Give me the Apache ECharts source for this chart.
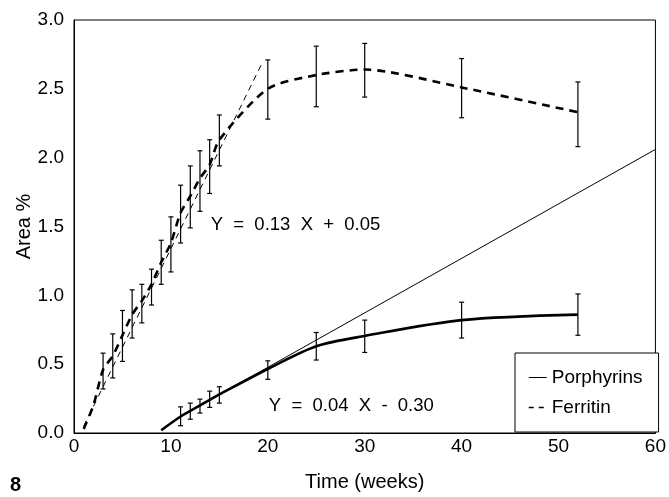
<!DOCTYPE html>
<html>
<head>
<meta charset="utf-8">
<script src="https://cdn.jsdelivr.net/npm/echarts@6/dist/echarts.min.js"></script>
<style>
html,body{margin:0;padding:0;background:#fff;}
#chart{width:669px;height:497px;}
</style>
</head>
<body>
<div id="chart"></div>
<script>
// ---- Data ----
var ferritinWeeks = [1, 2, 3, 4, 5, 6, 7, 8, 9, 10, 11, 12, 13, 14, 15, 20, 25, 30, 40, 52];
var ferritinMean  = [0.03, 0.2, 0.46, 0.56, 0.71, 0.86, 0.96, 1.08, 1.24, 1.38, 1.6, 1.72, 1.85, 1.95, 2.13, 2.5, 2.6, 2.64, 2.51, 2.33];
var ferritinBarWeeks = [3, 4, 5, 6, 7, 8, 9, 10, 11, 12, 13, 14, 15, 20, 25, 30, 40, 52];
var ferritinLow  = [0.32, 0.40, 0.52, 0.69, 0.80, 0.93, 1.08, 1.17, 1.38, 1.49, 1.61, 1.74, 1.94, 2.28, 2.37, 2.44, 2.29, 2.08];
var ferritinHigh = [0.58, 0.72, 0.89, 1.04, 1.08, 1.19, 1.40, 1.57, 1.80, 1.94, 2.05, 2.13, 2.31, 2.71, 2.81, 2.83, 2.72, 2.55];

var porphWeeks = [9, 11, 12, 13, 14, 15, 20, 25, 30, 40, 52];
var porphMean  = [0.02, 0.12, 0.16, 0.2, 0.24, 0.28, 0.465, 0.63, 0.705, 0.82, 0.86];
var porphBarWeeks = [11, 12, 13, 14, 15, 20, 25, 30, 40, 52];
var porphLow  = [0.053, 0.10, 0.145, 0.186, 0.217, 0.39, 0.53, 0.585, 0.69, 0.71];
var porphHigh = [0.19, 0.217, 0.246, 0.304, 0.336, 0.524, 0.73, 0.82, 0.95, 1.01];

// regression lines (end points as drawn)
var ferritinFitX = [1, 19.5];
var ferritinFitY = [0.05, 2.7];
var porphFitX = [13, 60];
var porphFitY = [0.2, 2.06];

var xTicks = [0, 10, 20, 30, 40, 50, 60];
var yTicks = ['0.0', '0.5', '1.0', '1.5', '2.0', '2.5', '3.0'];

var annoTexts = ['Y  =  0.13  X  +  0.05', 'Y  =  0.04  X  -  0.30'];
var annoX = [14.1, 20.1];
var annoY = [1.51, 0.2];

// ---- Build ----
function pairs(xs, ys) { return xs.map(function (x, i) { return [x, ys[i]]; }); }
function triples(xs, lo, hi) { return xs.map(function (x, i) { return [x, lo[i], hi[i]]; }); }

var FONT = 'Liberation Sans, Arial, Helvetica, sans-serif';

function errRender(params, api) {
  var x = api.value(0), lo = api.value(1), hi = api.value(2);
  var p1 = api.coord([x, lo]), p2 = api.coord([x, hi]);
  var w = 2.5;
  var st = { stroke: '#000', lineWidth: 1.2 };
  return {
    type: 'group',
    children: [
      { type: 'line', shape: { x1: p1[0], y1: p1[1], x2: p2[0], y2: p2[1] }, style: st },
      { type: 'line', shape: { x1: p1[0] - w, y1: p1[1], x2: p1[0] + w, y2: p1[1] }, style: st },
      { type: 'line', shape: { x1: p2[0] - w, y1: p2[1], x2: p2[0] + w, y2: p2[1] }, style: st }
    ]
  };
}

function annoRender(params, api) {
  var p = api.coord([api.value(0), api.value(1)]);
  return {
    type: 'text',
    x: p[0], y: p[1],
    style: {
      text: annoTexts[params.dataIndex],
      fill: '#000', font: '18.5px ' + FONT,
      textAlign: 'left', textVerticalAlign: 'middle'
    }
  };
}

var chart = echarts.init(document.getElementById('chart'), null, { renderer: 'canvas' });
var option = {
  backgroundColor: '#fff',
  animation: false,
  textStyle: { fontFamily: FONT, color: '#000' },
  grid: { left: 74, right: 10, top: 20, bottom: 63, show: true, borderColor: '#000', borderWidth: 1, backgroundColor: 'transparent' },
  xAxis: {
    type: 'value', min: 0, max: 60, interval: 10,
    name: 'Time (weeks)', nameLocation: 'middle', nameGap: 39, nameMoveOverlap: false,
    nameTextStyle: { fontSize: 20, color: '#000', fontFamily: FONT },
    axisLine: { show: true, lineStyle: { color: '#000', width: 1 } },
    axisTick: { show: false },
    splitLine: { show: false },
    axisLabel: { fontSize: 19, color: '#000', fontFamily: FONT, margin: 4,
      formatter: function (v) { return xTicks.indexOf(v) >= 0 ? String(v) : ''; } }
  },
  yAxis: {
    type: 'value', min: 0, max: 3, interval: 0.5,
    name: 'Area %', nameLocation: 'middle', nameGap: 40, nameRotate: 90, nameMoveOverlap: false,
    nameTextStyle: { fontSize: 20, color: '#000', fontFamily: FONT },
    axisLine: { show: true, lineStyle: { color: '#000', width: 1 } },
    axisTick: { show: false },
    splitLine: { show: false },
    axisLabel: { fontSize: 19, color: '#000', fontFamily: FONT, margin: 10,
      formatter: function (v) { return yTicks[Math.round(v / 0.5)]; } }
  },
  legend: {
    orient: 'vertical', left: 515, top: 353,
    padding: [15, 16, 15, 13], itemGap: 11,
    itemWidth: 18, itemHeight: 14,
    backgroundColor: '#fff', borderColor: '#000', borderWidth: 1,
    textStyle: { fontSize: 19, color: '#000', fontFamily: FONT },
    data: [
      { name: 'Porphyrins', itemStyle: { opacity: 0 }, lineStyle: { width: 1, color: '#000', type: 'solid' } },
      { name: 'Ferritin', itemStyle: { opacity: 0 }, lineStyle: { width: 1.5, color: '#000', type: [5, 5] } }
    ]
  },
  series: [
    {
      name: 'Ferritin fit', type: 'line', data: pairs(ferritinFitX, ferritinFitY),
      symbol: 'none', silent: true,
      lineStyle: { color: '#000', width: 1, type: [6, 5] }
    },
    {
      name: 'Porphyrins fit', type: 'line', data: pairs(porphFitX, porphFitY),
      symbol: 'none', silent: true,
      lineStyle: { color: '#000', width: 1, type: 'solid' }
    },
    {
      name: 'Ferritin', type: 'line', data: pairs(ferritinWeeks, ferritinMean),
      symbol: 'none', smooth: 0.25, color: '#000',
      lineStyle: { color: '#000', width: 2.6, type: [8, 6] }
    },
    {
      name: 'Porphyrins', type: 'line', data: pairs(porphWeeks, porphMean),
      symbol: 'none', smooth: 0.3, color: '#000',
      lineStyle: { color: '#000', width: 2.6, type: 'solid' }
    },
    {
      name: 'Ferritin err', type: 'custom', renderItem: errRender,
      data: triples(ferritinBarWeeks, ferritinLow, ferritinHigh), silent: true
    },
    {
      name: 'Porphyrins err', type: 'custom', renderItem: errRender,
      data: triples(porphBarWeeks, porphLow, porphHigh), silent: true
    },
    {
      name: 'Annotations', type: 'custom', renderItem: annoRender, silent: true,
      data: pairs(annoX, annoY)
    }
  ],
  graphic: [
    { type: 'text', left: 10, top: 475, style: { text: '8', fontSize: 20, fontWeight: 'bold', fill: '#000', fontFamily: FONT } }
  ]
};
chart.setOption(option);
</script>
</body>
</html>
